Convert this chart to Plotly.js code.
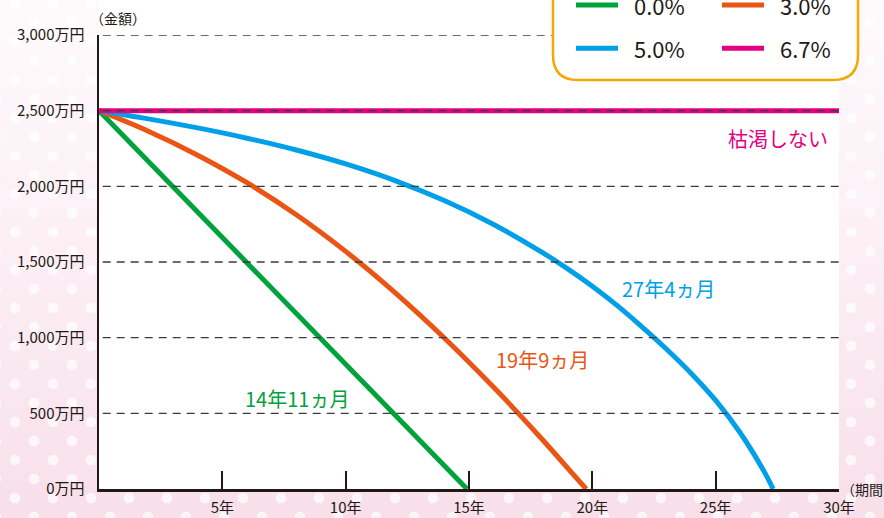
<!DOCTYPE html>
<html>
<head>
<meta charset="utf-8">
<script src="https://cdn.plot.ly/plotly-3.0.1.min.js"></script>
<style>
html,body{margin:0;padding:0;}
body{width:884px;height:518px;overflow:hidden;background-color:#f9e1eb;
background-image:
 radial-gradient(circle at center, rgba(255,255,255,0.7) 0 5px, rgba(255,255,255,0) 5.6px),
 radial-gradient(circle at center, rgba(255,255,255,0.7) 0 5px, rgba(255,255,255,0) 5.6px),
 linear-gradient(to bottom, #fefafc 0%, #fcf0f5 45%, #f8dfe9 100%);
background-size:38px 38px,38px 38px,100% 100%;
background-position:-4px 23px,15px 4px,0 0;}
#chart{width:884px;height:518px;}
</style>
</head>
<body>
<div id="chart"></div>
<script>
// ---- data ----
const seriesNames = ['0.0%', '3.0%', '5.0%', '6.7%'];
const seriesColors = ['#00a23c', '#ea5514', '#00a0e9', '#e4007f'];

const years00 = [0, 14.92];
const balance00 = [2500, 0];

const years30 = [0, 2, 4, 6, 8, 10, 12, 14, 16, 17, 18, 19, 19.75];
const balance30 = [2500, 2364, 2206, 2024, 1812, 1570, 1298, 998, 672, 500, 322, 138, 0];

const years50 = [0, 2, 4, 6, 8, 10, 12, 14, 16, 18, 19, 20, 21, 22, 23, 24, 25, 26, 27, 27.33];
const balance50 = [2500, 2446, 2386, 2318, 2240, 2148, 2038, 1906, 1748, 1560, 1455, 1340, 1213, 1073, 925, 765, 585, 370, 105, 0];

const years67 = [0, 30];
const balance67 = [2500, 2500];

const xTickVals = [5, 10, 15, 20, 25, 30];
const xTickText = ['5年', '10年', '15年', '20年', '25年', '30年'];
const yTickVals = [0, 500, 1000, 1500, 2000, 2500, 3000];
const yTickText = ['0万円', '500万円', '1,000万円', '1,500万円', '2,000万円', '2,500万円', '3,000万円'];

const endLabels = ['14年11ヵ月', '19年9ヵ月', '27年4ヵ月', '枯渇しない'];
const endLabelX = [8.03, 17.96, 23.07, 27.53];
const endLabelY = [601, 859, 1328, 2319];

// ---- traces ----
const FONT = '"Noto Sans CJK JP", "Noto Sans", sans-serif';
const xs = [years00, years30, years50, years67];
const ys = [balance00, balance30, balance50, balance67];
const traces = xs.map((x, i) => ({
  type: 'scatter', mode: 'lines', name: seriesNames[i],
  x: x, y: ys[i],
  line: {color: seriesColors[i], width: 5, shape: (i === 1 || i === 2) ? 'spline' : 'linear', smoothing: 1},
  showlegend: false, hoverinfo: 'skip'
}));

// ---- shapes ----
const shapes = [
  {type: 'rect', xref: 'paper', yref: 'paper', x0: 0, x1: 1, y0: 1, y1: 1.12,
   fillcolor: '#ffffff', line: {width: 0}, layer: 'below'}
];
// dashed grid drawn above the lines, as in the reference
yTickVals.filter(v => v > 0).forEach(v => {
  shapes.push({type: 'line', xref: 'paper', yref: 'y', x0: 0.005, x1: 1, y0: v, y1: v,
    layer: 'above', line: {color: '#3c3c3c', width: 1.3, dash: '8px,6px'}});
});
// legend box (manual, rounded)
const L = 0.6135, R = 1.0257, B = 0.9009, T = 1.14, rx = 0.0338, ry = 0.0551;
shapes.push({type: 'path', xref: 'paper', yref: 'paper', layer: 'above',
  path: `M ${L},${T} L ${L},${B + ry} Q ${L},${B} ${L + rx},${B} L ${R - rx},${B} Q ${R},${B} ${R},${B + ry} L ${R},${T} Z`,
  fillcolor: '#ffffff', line: {color: '#f5a800', width: 2.5}});
const legX = [0.6446, 0.8419];
const legY = [1.066, 0.971];
const annotations = [];
seriesNames.forEach((n, i) => {
  const col = i % 2, row = Math.floor(i / 2);
  shapes.push({type: 'line', xref: 'paper', yref: 'paper', layer: 'above',
    x0: legX[col], x1: legX[col] + 0.0568, y0: legY[row], y1: legY[row],
    line: {color: seriesColors[i], width: 5}});
  annotations.push({xref: 'paper', yref: 'paper', x: legX[col] + 0.0757, y: legY[row],
    xanchor: 'left', yanchor: 'middle', text: n, showarrow: false,
    font: {family: FONT, size: 22, color: '#231815'}});
});

endLabels.forEach((t, i) => {
  annotations.push({xref: 'x', yref: 'y', x: endLabelX[i], y: endLabelY[i],
    xanchor: 'center', yanchor: 'middle', text: t, showarrow: false,
    font: {family: FONT, size: 20, color: seriesColors[i]}});
});

annotations.push({xref: 'paper', yref: 'paper', x: 0, y: 1, xanchor: 'center', yanchor: 'middle',
  xshift: 19, yshift: 17, text: '（金額）', showarrow: false,
  font: {family: FONT, size: 14, color: '#231815'}});
annotations.push({xref: 'x', yref: 'y', x: 30, y: 0, xanchor: 'left', yanchor: 'middle',
  xshift: 0, text: '（期間）', showarrow: false,
  font: {family: FONT, size: 14, color: '#231815'}});

const layout = {
  width: 884, height: 518,
  margin: {l: 99, r: 45, t: 35, b: 29},
  paper_bgcolor: 'rgba(0,0,0,0)',
  plot_bgcolor: '#ffffff',
  font: {family: FONT, color: '#231815'},
  xaxis: {
    range: [0, 30], showgrid: false, zeroline: false,
    showline: true, linecolor: '#231815', linewidth: 2.5,
    ticks: 'inside', ticklen: 18, tickwidth: 2, tickcolor: '#231815',
    tickvals: xTickVals, ticktext: xTickText, ticklabelstandoff: 3,
    tickfont: {family: FONT, size: 15, color: '#231815'},
    layer: 'above traces', fixedrange: true
  },
  yaxis: {
    range: [0, 3000], zeroline: false, showgrid: false,
    showline: true, linecolor: '#231815', linewidth: 2.5,
    ticks: '', tickvals: yTickVals, ticktext: yTickText, ticklabelstandoff: 9,
    tickfont: {family: FONT, size: 15, color: '#231815'},
    layer: 'above traces', fixedrange: true
  },
  shapes: shapes,
  annotations: annotations,
  showlegend: false
};

Plotly.newPlot('chart', traces, layout, {displayModeBar: false, staticPlot: true});
</script>
</body>
</html>
